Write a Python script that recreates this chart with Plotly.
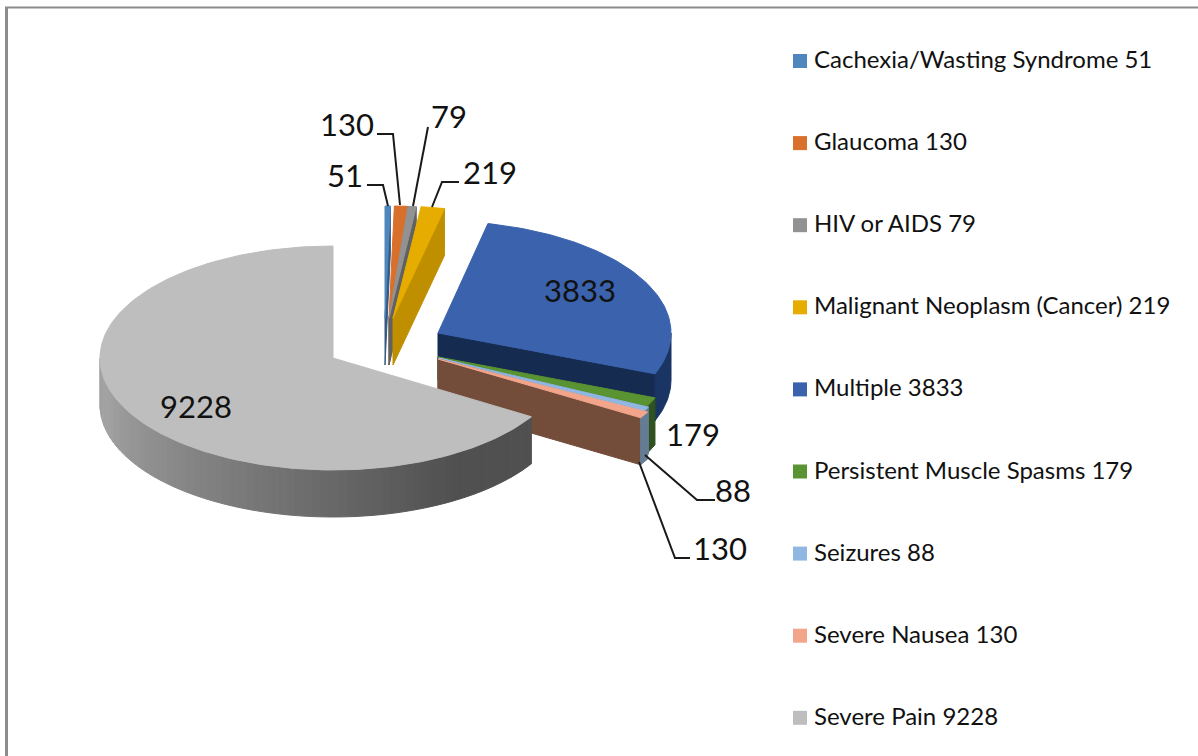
import math
import plotly.graph_objects as go

# ---- data ----
categories = ["Cachexia/Wasting Syndrome", "Glaucoma", "HIV or AIDS",
              "Malignant Neoplasm (Cancer)", "Multiple",
              "Persistent Muscle Spasms", "Seizures", "Severe Nausea", "Severe Pain"]
values = [51, 130, 79, 219, 3833, 179, 88, 130, 9228]

# ---- style ----
top_colors = ["#4F86BD", "#D8702C", "#929292", "#E6AC00", "#3A62AD",
              "#5A9332", "#8FB7E2", "#F2A58A", "#BEBEBE"]
wall_colors = ["#35597E", "#90491C", "#616161", "#BF8F00", "#152B50",
               "#2F5220", "#667C94", "#744C3A", "#808080"]
outer_colors = ["#35597E", "#90491C", "#616161", "#BF8F00", "#1A3563",
                "#2F5220", "#667C94", "#667C94", "#808080"]
FONT = "Lato"
TEXT = "#111111"

# explode geometry of each slice (pixel frame): tip x, tip y, radius x
tip_x = [385, 389, 389, 393, 438, 438, 439, 438, 333]
tip_y = [318, 318, 318, 318, 333, 357, 358, 359, 358]
rad_x = [233, 233, 233, 240, 233, 233, 233, 238, 233]
RY = 112
DEPTH = 47

total = sum(values)
starts, ends = [], []
acc = 0.0
for v in values:
    starts.append(acc / total * 2 * math.pi)
    acc += v
    ends.append(acc / total * 2 * math.pi)

def rim(i, t, drop=0):
    return (tip_x[i] + rad_x[i] * math.sin(t), tip_y[i] - RY * math.cos(t) + drop)

def arc(i, a, b, drop=0, n=None):
    n = n or max(3, int(abs(b - a) / 0.02))
    return [rim(i, a + (b - a) * k / n, drop) for k in range(n + 1)]

fig = go.Figure()

def poly(pts, color, name):
    fig.add_trace(go.Scatter(
        x=[p[0] for p in pts] + [pts[0][0]], y=[p[1] for p in pts] + [pts[0][1]],
        mode="lines", fill="toself", fillcolor=color,
        line=dict(color=color, width=1), name=name, hoverinfo="name", showlegend=False))

def draw_slice(i):
    name = f"{categories[i]} {values[i]}"
    a, b = starts[i], ends[i]
    tip = (tip_x[i], tip_y[i])
    tip_low = (tip_x[i], tip_y[i] + DEPTH)
    # cut face at the slice's end angle
    if i < 8:
        poly([tip, rim(i, b), rim(i, b, DEPTH), tip_low], wall_colors[i], name)
    # outer wall (front half only)
    lo, hi = max(a, math.pi / 2), min(b, 3 * math.pi / 2)
    if hi > lo:
        if i == 8:
            strips = 70
            for k in range(strips):
                t0 = lo + (hi - lo) * k / strips
                t1 = lo + (hi - lo) * (k + 1) / strips
                f = (k + 0.5) / strips           # 0 at right end, 1 at left end
                shade = int(0x50 + (0xA2 - 0x50) * min(1.0, max(0.0, (f - 0.18) / 0.72)))
                c = f"rgb({shade},{shade},{shade})"
                poly(arc(i, t0, t1, 0, 4) + arc(i, t1, t0, DEPTH, 4), c, name)
        else:
            poly(arc(i, lo, hi) + arc(i, hi, lo, DEPTH), outer_colors[i], name)
    # top surface
    poly([tip] + arc(i, a, b), top_colors[i], name)

for i in [4, 0, 1, 2, 3, 5, 6, 7, 8]:
    draw_slice(i)

# leader lines
leaders = [
    [(367, 185), (383, 185), (388, 206)],
    [(377, 134), (393, 134), (400, 205)],
    [(428, 127), (413, 206)],
    [(459, 182), (442, 182), (432, 207)],
    [(715, 500), (697, 500), (645, 455)],
    [(690, 558), (675, 558), (639, 462)],
]
for pts in leaders:
    fig.add_trace(go.Scatter(x=[p[0] for p in pts], y=[p[1] for p in pts], mode="lines",
                             line=dict(color="#1A1A1A", width=2), hoverinfo="skip", showlegend=False))

# data labels: value index -> label centre
label_pos = {0: (344.5, 175), 1: (346.5, 124), 2: (448.5, 116), 3: (489.5, 172), 4: (580, 290),
             5: (692.5, 434), 6: (733, 490), 7: (719.5, 548), 8: (196, 406)}
for i, (lx, ly) in label_pos.items():
    fig.add_annotation(x=lx, y=ly, text=str(values[i]), showarrow=False, xanchor="center", yanchor="middle",
                       font=dict(family=FONT, size=31, color=TEXT))

# legend
LEG_TOP, LEG_STEP = 60, 82.1
for i in range(len(values)):
    ly = LEG_TOP + LEG_STEP * i
    fig.add_trace(go.Scatter(x=[800], y=[ly + 1], mode="markers", hoverinfo="skip", showlegend=False,
                             marker=dict(symbol="square", size=14, color=top_colors[i])))
    fig.add_annotation(x=812, y=ly - 1.5, text=f"{categories[i]} {values[i]}", showarrow=False,
                       xanchor="left", yanchor="middle", font=dict(family=FONT, size=24, color=TEXT))

fig.update_layout(
    width=1198, height=756, margin=dict(l=0, r=0, t=0, b=0),
    paper_bgcolor="white", plot_bgcolor="white", showlegend=False,
    xaxis=dict(range=[0, 1198], visible=False, fixedrange=True),
    yaxis=dict(range=[756, 0], visible=False, fixedrange=True),
    shapes=[
        dict(type="line", xref="x", yref="y", x0=6.5, x1=6.5, y0=7, y1=756, line=dict(color="#8C8C8C", width=3)),
        dict(type="line", xref="x", yref="y", x0=5, x1=1198, y0=7.5, y1=7.5, line=dict(color="#8C8C8C", width=2)),
    ],
)
fig.write_html("out.html", config={"displayModeBar": False},
               post_script="document.body.style.margin='0';document.documentElement.style.overflow='hidden';")
